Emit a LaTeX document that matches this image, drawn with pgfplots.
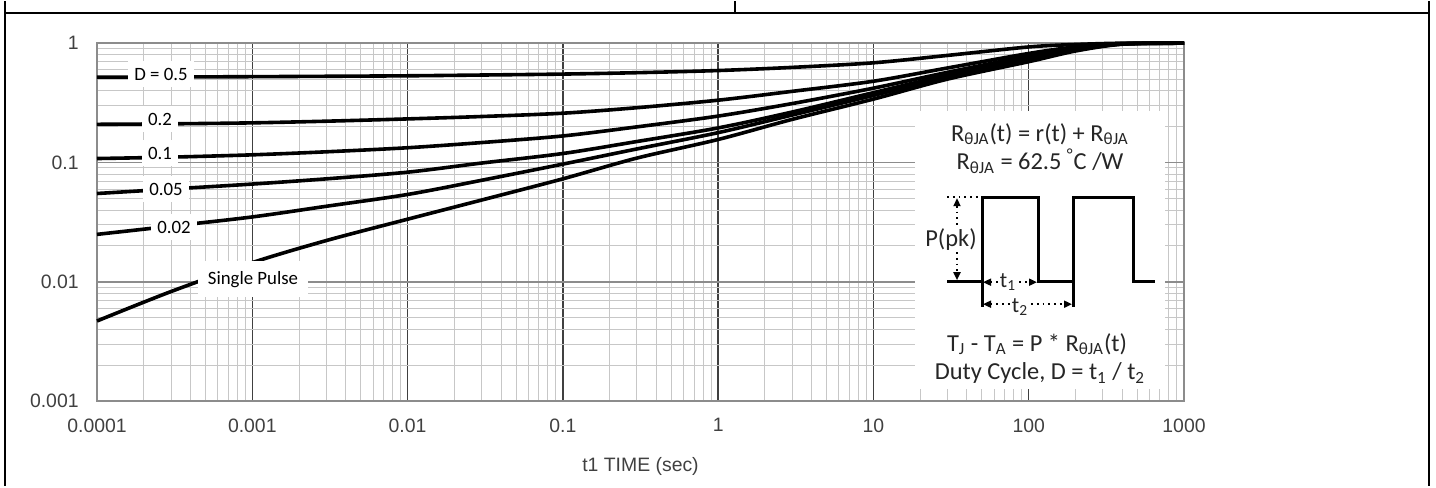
\documentclass[border=0pt]{standalone}
\usepackage{fontspec}
\setmainfont{Liberation Sans}
\newfontfamily\calibri{Carlito}
\usepackage{pgfplots}
\pgfplotsset{compat=1.18}
\usetikzlibrary{arrows.meta}

\newcommand\tickfont{\fontsize{9.7bp}{11bp}\selectfont}
\newcommand\lblfont{\calibri\fontsize{9.4bp}{11bp}\selectfont}
\newcommand\insetfont{\calibri\fontsize{12.2bp}{14bp}\selectfont}
\newcommand\tfont{\calibri\fontsize{11bp}{12bp}\selectfont}

\begin{document}
\begin{tikzpicture}
% picture frame in reference pixel units (1px = 0.5bp), origin = lower left of axis
\begin{scope}[x=0.5bp,y=-0.5bp,shift={(-97,-400)}]
  \path[use as bounding box] (0,0) rectangle (1436,485);
\end{scope}

\begin{axis}[
    at={(0,0)}, anchor=south west,
    scale only axis,
    width=543.5bp, height=179bp,
    xmode=log, ymode=log,
    xmin=1e-4, xmax=1000,
    ymin=1e-3, ymax=1,
    xtick={1e-4,1e-3,1e-2,1e-1,1,10,100,1000},
    xticklabels={0.0001,0.001,0.01,0.1,1,10,100,1000},
    ytick={1e-3,1e-2,1e-1,1},
    yticklabels={0.001,0.01,0.1,1},
    minor xtick={2e-4,3e-4,4e-4,5e-4,6e-4,7e-4,8e-4,9e-4,
                 2e-3,3e-3,4e-3,5e-3,6e-3,7e-3,8e-3,9e-3,
                 0.02,0.03,0.04,0.05,0.06,0.07,0.08,0.09,
                 0.2,0.3,0.4,0.5,0.6,0.7,0.8,0.9,
                 2,3,4,5,6,7,8,9,
                 20,30,40,50,60,70,80,90,
                 200,300,400,500,600,700,800,900},
    minor ytick={0.002,0.003,0.004,0.005,0.006,0.007,0.008,0.009,
                 0.02,0.03,0.04,0.05,0.06,0.07,0.08,0.09,
                 0.2,0.3,0.4,0.5,0.6,0.7,0.8,0.9},
    grid=both,
    major tick length=0pt, minor tick length=0pt,
    axis line style={draw=black!45, line width=1bp},
    minor grid style={draw=black!22, line width=0.5bp},
    major x grid style={draw=black!75, line width=0.7bp},
    major y grid style={draw=black!45, line width=0.7bp},
    every tick label/.append style={font=\tickfont, text=black!75, inner sep=0pt},
    xticklabel style={anchor=north, yshift=-8.5bp},
    yticklabel style={anchor=east, xshift=-9bp},
    xlabel={t1 TIME (sec)},
    xlabel style={at={(axis description cs:0.5,-0.1816)}, anchor=center,
                  font=\tickfont, text=black!75},
    clip=false,
]
% D = 0.5
\addplot[black, line width=1.8bp, smooth] coordinates {
  (1e-4,0.519) (3e-4,0.521) (1e-3,0.524) (3e-3,0.528) (1e-2,0.533) (3e-2,0.541)
  (0.1,0.551) (0.3,0.566) (1,0.59) (3,0.627) (10,0.685) (30,0.79)
  (100,0.93) (200,0.975) (400,1.0) (1000,1.0)};
% D = 0.2
\addplot[black, line width=1.8bp, smooth] coordinates {
  (1e-4,0.209) (3e-4,0.211) (1e-3,0.215) (3e-3,0.222) (1e-2,0.232) (3e-2,0.243)
  (0.1,0.259) (0.3,0.288) (1,0.333) (3,0.395) (10,0.48) (30,0.62)
  (100,0.82) (200,0.93) (400,0.99) (1000,1.0)};
% D = 0.1
\addplot[black, line width=1.8bp, smooth] coordinates {
  (1e-4,0.108) (3e-4,0.111) (1e-3,0.116) (3e-3,0.123) (1e-2,0.133) (3e-2,0.147)
  (0.1,0.167) (0.3,0.199) (1,0.245) (3,0.312) (10,0.42) (30,0.57)
  (100,0.78) (200,0.91) (400,0.99) (1000,1.0)};
% D = 0.05
\addplot[black, line width=1.8bp, smooth] coordinates {
  (1e-4,0.055) (3e-4,0.06) (1e-3,0.066) (3e-3,0.073) (1e-2,0.083) (3e-2,0.099)
  (0.1,0.119) (0.3,0.15) (1,0.195) (3,0.265) (10,0.385) (30,0.54)
  (100,0.75) (200,0.89) (400,0.985) (1000,1.0)};
% D = 0.02
\addplot[black, line width=1.8bp, smooth] coordinates {
  (1e-4,0.025) (3e-4,0.0293) (1e-3,0.035) (3e-3,0.043) (1e-2,0.054) (3e-2,0.071)
  (0.1,0.097) (0.3,0.13) (1,0.178) (3,0.25) (10,0.365) (30,0.52)
  (100,0.73) (200,0.875) (400,0.985) (1000,1.0)};
% Single pulse
\addplot[black, line width=1.8bp, smooth] coordinates {
  (1e-4,0.0047) (3e-4,0.0083) (1e-3,0.0145) (3e-3,0.0222) (1e-2,0.0335) (3e-2,0.0485)
  (0.1,0.073) (0.3,0.109) (1,0.156) (3,0.23) (10,0.34) (30,0.5)
  (100,0.7) (200,0.86) (400,0.98) (1000,1.0)};
\end{axis}

\begin{scope}[x=0.5bp,y=-0.5bp,shift={(-97,-400)}]
  % table frame
  \draw[line width=1.2bp] (5,0) -- (5,485);
  \draw[line width=1.2bp] (1429,0) -- (1429,485);
  \draw[line width=1.2bp] (5,12) -- (1429,12);
  \draw[line width=1bp] (735,0) -- (735,12);

  % curve labels
  \begin{scope}[every node/.style={fill=white, inner xsep=3bp, inner ysep=3.5bp, font=\lblfont}]
    \node at (161,73) {D = 0.5};
    \node at (160,118) {0.2};
    \node at (160,152) {0.1};
    \node at (166,188) {0.05};
    \node at (174,226) {0.02};
    \node[inner xsep=5bp, inner ysep=5bp] at (253,278) {Single Pulse};
  \end{scope}

  % inset
  \fill[white] (915,110) rectangle (1165,388);
  \node[font=\insetfont, text=black!85] at (1040,133)
    {R\textsubscript{θJA}(t) = r(t) + R\textsubscript{θJA}};
  \node[font=\insetfont, text=black!85] at (1040,160)
    {R\textsubscript{θJA} = 62.5 \textsuperscript{°}C /W};
  \node[font=\insetfont, text=black!85] at (1037,343)
    {T\textsubscript{J} - T\textsubscript{A} = P * R\textsubscript{θJA}(t)};
  \node[font=\insetfont, text=black!85] at (1040,372)
    {Duty Cycle, D = t\textsubscript{1} / t\textsubscript{2}};

  % waveform
  \draw[line width=1.5bp, line join=miter]
    (947,280) -- (982,280) -- (982,196) -- (1038,196) -- (1038,280)
    -- (1073,280) -- (1073,196) -- (1133,196) -- (1133,280) -- (1155,280);
  \draw[line width=1.5bp] (982,280) -- (982,306);
  \draw[line width=1.5bp] (1073,280) -- (1073,306);
  \draw[dotted, line width=0.9bp] (947,196) -- (982,196);
  \draw[dotted, line width=0.9bp, {Triangle[length=4bp,width=3.5bp]}-{Triangle[length=4bp,width=3.5bp]}]
    (957,197) -- (957,279);
  \node[font=\insetfont, text=black!85, fill=white, inner sep=0.5bp] at (951,238) {P(pk)};
  \draw[dotted, line width=0.9bp, {Triangle[length=4bp,width=3.5bp]}-{Triangle[length=4bp,width=3.5bp]}]
    (983,281) -- (1037,281);
  \node[font=\tfont, text=black!85, fill=white, inner sep=0.2bp] at (1008,281) {t\textsubscript{1}};
  \draw[dotted, line width=0.9bp, {Triangle[length=4bp,width=3.5bp]}-{Triangle[length=4bp,width=3.5bp]}]
    (983,303) -- (1072,303);
  \node[font=\tfont, text=black!85, fill=white, inner sep=0.2bp] at (1020,306) {t\textsubscript{2}};
\end{scope}
\end{tikzpicture}
\end{document}
